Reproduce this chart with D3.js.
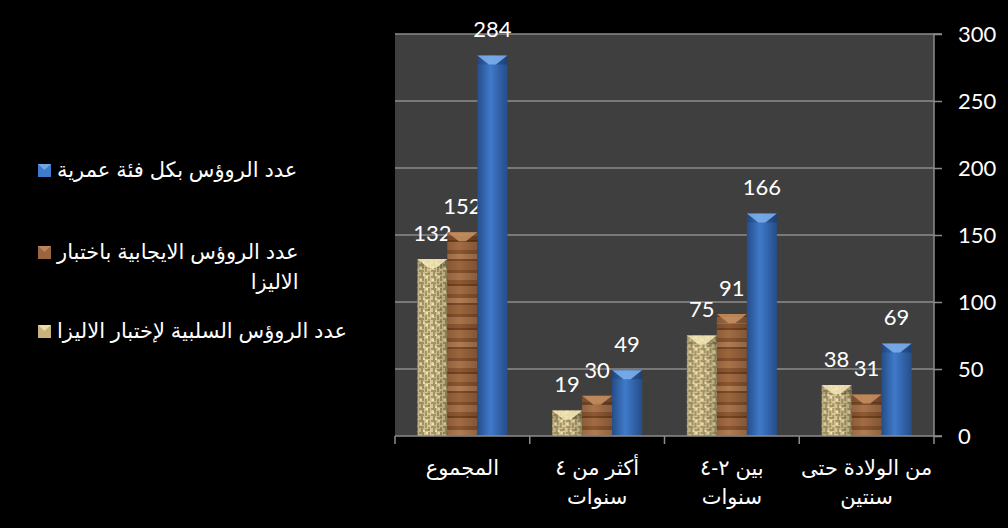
<!DOCTYPE html>
<html><head><meta charset="utf-8">
<script src="https://cdn.jsdelivr.net/npm/d3@7"></script>
<style>
html,body{margin:0;padding:0;background:#000;}
svg{display:block;}
</style></head>
<body>
<svg id="chart" width="1008" height="528"></svg>
<script>
// ---- data ----
const categories = ["من الولادة حتى سنتين", "بين ٢-٤ سنوات", "أكثر من ٤ سنوات", "المجموع"];
const categoryLines = [["من الولادة حتى", "سنتين"], ["بين ٢-٤", "سنوات"], ["أكثر من ٤", "سنوات"], ["المجموع"]];
const seriesNames = ["عدد الروؤس السلبية لإختبار الاليزا", "عدد الروؤس الايجابية باختبار الاليزا", "عدد الروؤس بكل فئة عمرية"];
const negativeValues = [38, 75, 19, 132];
const positiveValues = [31, 91, 30, 152];
const totalValues = [69, 166, 49, 284];
const yTickValues = [0, 50, 100, 150, 200, 250, 300];
const legendOrder = [2, 1, 0];
const legendLines = [["عدد الروؤس السلبية لإختبار الاليزا"], ["عدد الروؤس الايجابية باختبار", "الاليزا"], ["عدد الروؤس بكل فئة عمرية"]];

const seriesValues = [negativeValues, positiveValues, totalValues];

// ---- layout ----
const plot = {left: 395, right: 934, top: 34, bottom: 436};
const svg = d3.select("#chart");
svg.append("rect").attr("width", 1008).attr("height", 528).attr("fill", "#000");

const defs = svg.append("defs");
// burlap pattern
const burlap = defs.append("pattern").attr("id", "burlap").attr("patternUnits", "userSpaceOnUse")
  .attr("width", 12).attr("height", 12);
burlap.append("rect").attr("width", 12).attr("height", 12).attr("fill", "#dccb98");
const weave = [[0,0,5,2],[6,3,2,5],[0,6,5,2],[9,0,2,5],[6,9,5,2],[2,8,2,4],[3,2,2,3],[9,7,2,3]];
weave.forEach(r => burlap.append("rect").attr("x", r[0]).attr("y", r[1]).attr("width", r[2]).attr("height", r[3]).attr("fill", "#85703f").attr("opacity", 0.55));
burlap.append("rect").attr("x", 1).attr("y", 3).attr("width", 2).attr("height", 2).attr("fill", "#f5ebc4");
burlap.append("rect").attr("x", 7).attr("y", 0).attr("width", 2).attr("height", 2).attr("fill", "#f5ebc4");
burlap.append("rect").attr("x", 4).attr("y", 10).attr("width", 2).attr("height", 2).attr("fill", "#f5ebc4");
// wood pattern
const wood = defs.append("pattern").attr("id", "wood").attr("patternUnits", "userSpaceOnUse")
  .attr("width", 30).attr("height", 44);
const woodBands = [["#9c653c",0,6],["#84502b",6,3],["#a8734a",9,7],["#8e5833",16,4],["#74441f",20,2],["#a26b43",22,8],["#8a552f",30,4],["#b07c52",34,5],["#7c4a26",39,2],["#9b653d",41,3]];
woodBands.forEach(b => wood.append("rect").attr("x", 0).attr("y", b[1]).attr("width", 30).attr("height", b[2]).attr("fill", b[0]));
// blue gradient
const bg = defs.append("linearGradient").attr("id", "blueGrad").attr("x1", "0").attr("x2", "1").attr("y1", "0").attr("y2", "0");
bg.append("stop").attr("offset", "0").attr("stop-color", "#2a569a");
bg.append("stop").attr("offset", "0.45").attr("stop-color", "#3f7bcb");
bg.append("stop").attr("offset", "1").attr("stop-color", "#2c5aa0");
const shade = defs.append("linearGradient").attr("id", "shadeGrad").attr("x1", "0").attr("x2", "1");
shade.append("stop").attr("offset", "0").attr("stop-color", "#000").attr("stop-opacity", 0.2);
shade.append("stop").attr("offset", "0.4").attr("stop-color", "#000").attr("stop-opacity", 0);
shade.append("stop").attr("offset", "1").attr("stop-color", "#000").attr("stop-opacity", 0.28);

const fills = ["url(#burlap)", "url(#wood)", "url(#blueGrad)"];
const bevelFills = ["#f3e6b6", "#c48e60", "#7fb0ec"];
const legendSwatch = ["#c9b27a", "#9a6640", "#3f7bcb"];

// plot background
svg.append("rect").attr("x", plot.left).attr("y", plot.top).attr("width", plot.right - plot.left)
  .attr("height", plot.bottom - plot.top).attr("fill", "#3f3f3f");

const x0 = d3.scaleBand().domain(categories).range([plot.right, plot.left]).paddingInner(0).paddingOuter(0);
const x1 = d3.scaleBand().domain([0, 1, 2]).range([0, x0.bandwidth()]).paddingInner(0).paddingOuter(0.746);
const y = d3.scaleLinear().domain([0, 300]).range([plot.bottom, plot.top]);

// gridlines
svg.append("g").selectAll("line").data(yTickValues.filter(v => v > 0)).join("line")
  .attr("x1", plot.left).attr("x2", plot.right).attr("y1", d => y(d)).attr("y2", d => y(d))
  .attr("stroke", "#8c8c8c").attr("stroke-width", 1.5);

// bars
const groups = svg.append("g").selectAll("g").data(categories).join("g")
  .attr("transform", d => `translate(${x0(d)},0)`);
groups.each(function(cat, ci) {
  const g = d3.select(this);
  seriesValues.forEach((vals, si) => {
    const v = vals[ci];
    const bx = x1(si), w = x1.bandwidth(), top = y(v), h = y(0) - y(v);
    g.append("rect").attr("x", bx).attr("y", top).attr("width", w).attr("height", h).attr("fill", fills[si]);
    g.append("rect").attr("x", bx).attr("y", top).attr("width", w).attr("height", h).attr("fill", "url(#shadeGrad)").attr("opacity", si === 2 ? 0.5 : 0.7);
    const b = Math.min(9, h);
    g.append("polygon")
      .attr("points", [[bx, top], [bx + w, top], [bx + w * 0.62, top + b], [bx + w * 0.38, top + b]].map(p => p.join(",")).join(" "))
      .attr("fill", bevelFills[si]).attr("opacity", 0.85);
    g.append("polygon")
      .attr("points", [[bx, top], [bx + w * 0.38, top + b], [bx, top + b]].map(p => p.join(",")).join(" "))
      .attr("fill", "#000").attr("opacity", 0.1);
    g.append("polygon")
      .attr("points", [[bx + w, top], [bx + w * 0.62, top + b], [bx + w, top + b]].map(p => p.join(",")).join(" "))
      .attr("fill", "#000").attr("opacity", 0.18);
    g.append("text").attr("x", bx + w / 2).attr("y", top - 26).attr("dy", "0.35em")
      .attr("text-anchor", "middle").attr("fill", "#fff")
      .attr("font-family", "Lato, 'Open Sans', sans-serif").attr("font-size", 22).text(v);
  });
});

// y axis (right)
const yAxis = d3.axisRight(y).tickValues(yTickValues).tickSize(8).tickPadding(16);
const ya = svg.append("g").attr("transform", `translate(${plot.right},0)`).call(yAxis);
ya.select(".domain").attr("stroke", "#8c8c8c").attr("stroke-width", 1.5).attr("d", `M8,${plot.top}H0V${plot.bottom}H8`);
ya.selectAll(".tick line").attr("stroke", "#8c8c8c").attr("stroke-width", 1.5);
ya.selectAll(".tick text").attr("fill", "#fff").attr("font-family", "Lato, 'Open Sans', sans-serif").attr("font-size", 22);

// x axis
const xa = svg.append("g");
xa.append("line").attr("x1", plot.left).attr("x2", plot.right).attr("y1", plot.bottom).attr("y2", plot.bottom)
  .attr("stroke", "#8c8c8c").attr("stroke-width", 1.5);
const boundaries = categories.map(c => x0(c)).concat([plot.right]);
xa.selectAll("line.tk").data(boundaries).join("line").attr("class", "tk")
  .attr("x1", d => d).attr("x2", d => d).attr("y1", plot.bottom).attr("y2", plot.bottom + 8)
  .attr("stroke", "#8c8c8c").attr("stroke-width", 1.5);
const arabicFont = "Arial, 'Liberation Sans', 'DejaVu Sans', sans-serif";
categories.forEach((c, i) => {
  const cx = x0(c) + x0.bandwidth() / 2;
  categoryLines[i].forEach((line, li) => {
    xa.append("text").attr("x", cx).attr("y", 475 + li * 29).attr("text-anchor", "middle")
      .attr("fill", "#fff").attr("font-family", arabicFont).attr("font-size", 21).text(line);
  });
});

// legend
const legendY = [170, 252, 331];
const lg = svg.append("g");
legendOrder.forEach((si, k) => {
  const yy = legendY[k];
  lg.append("rect").attr("x", 38).attr("y", yy - 6).attr("width", 13).attr("height", 13).attr("fill", legendSwatch[si]);
  lg.append("polygon").attr("points", `38,${yy - 6} 51,${yy - 6} 44.5,${yy}`).attr("fill", bevelFills[si]).attr("opacity", 0.8);
  const lines = legendLines[si];
  const t1 = lg.append("text").attr("x", 57).attr("y", yy).attr("dy", "0.35em").attr("text-anchor", "start")
    .attr("fill", "#fff").attr("font-family", arabicFont).attr("font-size", 21).text(lines[0]);
  if (lines.length > 1) {
    const len = t1.node().getComputedTextLength();
    lg.append("text").attr("x", 57 + len).attr("y", yy + 30).attr("dy", "0.35em").attr("text-anchor", "end")
      .attr("fill", "#fff").attr("font-family", arabicFont).attr("font-size", 21).text(lines[1]);
  }
});
</script>
</body></html>
